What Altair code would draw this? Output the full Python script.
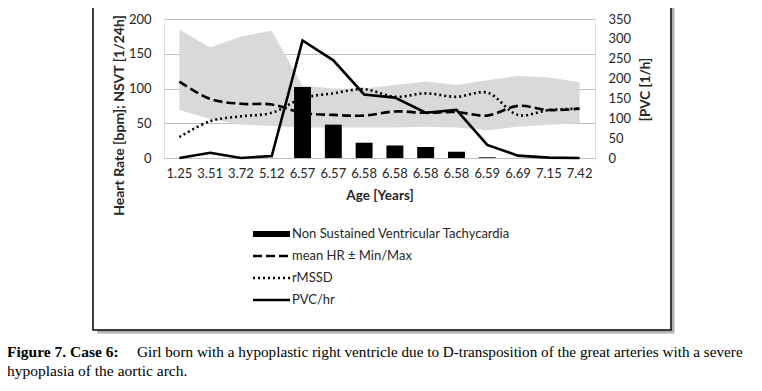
import json
import altair as alt
import pandas as pd

# ---------------- data ----------------
age_labels = ["1.25", "3.51", "3.72", "5.12", "6.57", "6.57", "6.58", "6.58",
              "6.58", "6.58", "6.59", "6.69", "7.15", "7.42"]
nsvt = [0, 0, 0, 0, 102, 48, 22, 18, 16, 9, 1, 0, 0, 0]
hr_mean = [110, 85, 78, 77, 65, 62, 61, 67, 65, 66, 61, 75, 69, 71]
hr_min = [69, 56, 48, 46, 44, 44, 44, 44, 45, 44, 40, 45, 48, 50]
hr_max = [185, 159, 175, 183, 104, 100, 100, 105, 110, 105, 112, 118, 116, 109]
rmssd = [30, 53, 60, 65, 86, 93, 99, 88, 93, 88, 94, 62, 69, 71]
pvc = [0, 13, 0, 5, 296, 246, 160, 152, 114, 121, 33, 6, 1, 0]

legend_labels = ["Non Sustained Ventricular Tachycardia", "mean HR \u00b1 Min/Max",
                 "rMSSD", "PVC/hr"]

idx = list(range(len(age_labels)))
band_df = pd.DataFrame({"idx": idx, "lo": hr_min, "hi": hr_max})
bar_df = pd.DataFrame({"idx": idx, "v": nsvt})
hr_df = pd.DataFrame({"idx": idx, "v": hr_mean})
rm_df = pd.DataFrame({"idx": idx, "v": rmssd})
pvc_df = pd.DataFrame({"idx": idx, "v": pvc})

FONT = "Lato"
TXT = "#262626"
label_expr = json.dumps(age_labels) + "[datum.value]"

x_enc = alt.X("idx:O", title="Age [Years]",
              scale=alt.Scale(paddingInner=0.45, paddingOuter=0.225),
              axis=alt.Axis(labelExpr=label_expr, labelAngle=0, ticks=False,
                            domain=True, domainColor="#bfbfbf", domainWidth=1,
                            labelFont=FONT, labelFontSize=13, labelColor=TXT,
                            labelPadding=9, titleFont=FONT, titleFontSize=13.5,
                            titleFontWeight="bold", titleColor=TXT, titlePadding=8))

Y_TITLE = "Heart Rate [bpm]; NSVT [1/24h]"
y_left_scale = alt.Scale(domain=[0, 200])
y_left_axis = alt.Axis(values=[0, 50, 100, 150, 200], grid=True, gridColor="#bfbfbf",
                       gridWidth=1, domain=False, ticks=False, labelFont=FONT,
                       labelFontSize=13, labelColor=TXT, labelPadding=13,
                       titleFont=FONT, titleFontSize=14, titleFontWeight="bold",
                       titleColor=TXT, titleX=-45, titleY=96, titleAngle=270,
                       titleAlign="center", titleBaseline="middle")


def yl(field):
    return alt.Y(field, scale=y_left_scale, axis=y_left_axis, title=Y_TITLE)


band = alt.Chart(band_df).mark_area(color="#d9d9d9", opacity=1).encode(
    x=x_enc, y=yl("lo:Q"), y2="hi:Q")

bars = alt.Chart(bar_df).mark_bar(color="black").encode(x=x_enc, y=yl("v:Q"))

hr_line = alt.Chart(hr_df).mark_line(
    color="black", strokeWidth=2.6, strokeDash=[9, 4], interpolate="catmull-rom"
).encode(x=x_enc, y=yl("v:Q"))

rm_line = alt.Chart(rm_df).mark_line(
    color="black", strokeWidth=2.6, strokeDash=[2, 3], interpolate="catmull-rom"
).encode(x=x_enc, y=yl("v:Q"))

pvc_line = alt.Chart(pvc_df).mark_line(color="black", strokeWidth=2.6).encode(
    x=x_enc,
    y=alt.Y("v:Q", scale=alt.Scale(domain=[0, 350]),
            axis=alt.Axis(orient="right", values=list(range(0, 351, 50)), grid=False,
                          domain=False, ticks=False, labelFont=FONT, labelFontSize=13,
                          labelColor=TXT, labelPadding=13, titleFont=FONT,
                          titleFontSize=13.5, titleFontWeight="bold", titleColor=TXT,
                          titleAngle=270, titleX=50, titleY=70, titleAlign="center",
                          titleBaseline="middle"),
            title="[PVC [1/h]"),
)

one = pd.DataFrame({"k": [0]})

# ---- manual legend (below the plot, inside the frame) ----
leg_styles = [
    dict(strokeWidth=6, strokeDash=[1, 0]),
    dict(strokeWidth=2.6, strokeDash=[9, 4]),
    dict(strokeWidth=2.6, strokeDash=[2, 3]),
    dict(strokeWidth=2.6, strokeDash=[1, 0]),
]
leg_layers = []
for i, (lab, st) in enumerate(zip(legend_labels, leg_styles)):
    yy = 215 + 22 * i
    leg_layers.append(alt.Chart(one).mark_rule(color="black", **st).encode(
        x=alt.value(89), x2=alt.value(126), y=alt.value(yy)))
    leg_layers.append(alt.Chart(one).mark_text(
        align="left", baseline="middle", font=FONT, fontSize=13, color=TXT).encode(
        x=alt.value(128), y=alt.value(yy), text=alt.value(lab)))

# ---- frame with shadow ----
shadow_b = alt.Chart(one).mark_rule(color="#b0b0b0", strokeWidth=3).encode(
    x=alt.value(-67), x2=alt.value(510), y=alt.value(313))
shadow_r = alt.Chart(one).mark_rule(color="#b0b0b0", strokeWidth=3).encode(
    x=alt.value(509), y=alt.value(-12), y2=alt.value(313))
frame = alt.Chart(one).mark_rect(fill=None, stroke="black", strokeWidth=1.5).encode(
    x=alt.value(-71), x2=alt.value(507), y=alt.value(-16), y2=alt.value(311))

# ---- caption ----
CAP_FONT = "Liberation Serif"
CAP_SIZE = 15.5
cap1b = alt.Chart(one).mark_text(align="left", baseline="alphabetic", font=CAP_FONT,
                                 fontSize=CAP_SIZE, fontWeight="bold", color="black").encode(
    x=alt.value(-157), y=alt.value(338), text=alt.value("Figure 7. Case 6:"))
cap1 = alt.Chart(one).mark_text(align="left", baseline="alphabetic", font=CAP_FONT,
                                fontSize=15.2, color="black").encode(
    x=alt.value(-27), y=alt.value(338),
    text=alt.value("Girl born with a hypoplastic right ventricle due to D-transposition "
                   "of the great arteries with a severe"))
cap2 = alt.Chart(one).mark_text(align="left", baseline="alphabetic", font=CAP_FONT,
                                fontSize=CAP_SIZE, color="black").encode(
    x=alt.value(-157), y=alt.value(357), text=alt.value("hypoplasia of the aortic arch."))

left = alt.layer(band, bars, hr_line, rm_line)
chart = alt.layer(shadow_b, shadow_r, frame, cap1b, cap1, cap2, *leg_layers,
                  left, pvc_line).resolve_scale(
    y="independent"
).properties(
    width=431, height=139,
    padding={"left": 156, "top": 11, "right": 159, "bottom": 225},
    autosize=alt.AutoSizeParams(type="none"),
).configure_view(stroke=None).configure(background="white")

chart.save("out.html", embed_options={"renderer": "svg", "actions": False})
